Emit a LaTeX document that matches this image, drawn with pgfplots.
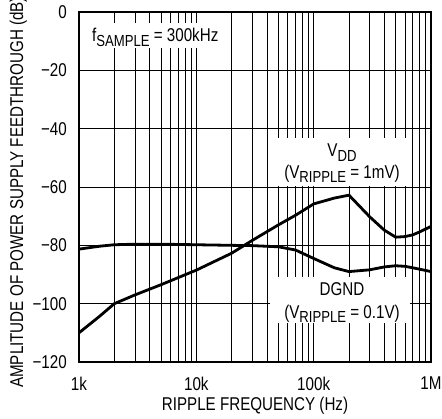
\documentclass[border=0pt]{standalone}
\usepackage{fontspec}
\setmainfont{Liberation Sans}[FakeStretch=0.82]
\usepackage{pgfplots}
\pgfplotsset{compat=1.18}
\newcommand{\fs}{\fontsize{18.5bp}{22bp}\selectfont}
\newcommand{\sub}[1]{\raisebox{-0.25em}{\fontsize{16bp}{16bp}\selectfont #1}}
\begin{document}
\begin{tikzpicture}
\begin{axis}[
  at={(0,0)}, anchor=south west,
  scale only axis, width=352bp, height=350bp,
  xmode=log, xmin=1000, xmax=1000000, ymin=-120, ymax=0,
  xtick={1000,10000,100000,1000000},
  xticklabels={1k,10k,100k,1M},
  minor xtick={2000,3000,4000,5000,6000,7000,8000,9000,20000,30000,40000,50000,60000,70000,80000,90000,200000,300000,400000,500000,600000,700000,800000,900000},
  ytick={-120,-100,-80,-60,-40,-20,0},
  yticklabels={−120,−100,−80,−60,−40,−20,0},
  xmajorgrids, xminorgrids, ymajorgrids,
  major grid style={black, line width=0.9bp},
  minor grid style={black, line width=0.9bp},
  major tick length=0pt, minor tick length=0pt,
  axis line style={line width=1.3bp},
  tick label style={font=\fs},
  yticklabel style={anchor=east, inner sep=0pt, xshift=-12bp},
  xticklabel style={anchor=north, inner sep=0pt, yshift=-15bp},
  clip=false,
]
% white label boxes
\fill[white] ([xshift=1.5bp,yshift=-11bp]rel axis cs:0,1) rectangle ([xshift=149bp,yshift=-36bp]rel axis cs:0,1);
\fill[white] ([xshift=191bp,yshift=-126bp]rel axis cs:0,1) rectangle ([xshift=331bp,yshift=-174bp]rel axis cs:0,1);
\fill[white] ([xshift=191bp,yshift=-265bp]rel axis cs:0,1) rectangle ([xshift=331bp,yshift=-311bp]rel axis cs:0,1);

\addplot[black, line width=2.8bp, line join=round] coordinates {
 (1000,-110) (1500,-104.3) (2000,-100) (3000,-97) (5000,-93.5) (10000,-88.5)
 (20000,-82.7) (30000,-78.3) (50000,-73) (70000,-69.7) (100000,-65.8)
 (150000,-63.8) (200000,-62.8) (300000,-70.2) (400000,-74.8) (500000,-77.2)
 (600000,-77.0) (700000,-76.4) (800000,-75.4) (1000000,-73.5)
};
\addplot[black, line width=2.8bp, line join=round] coordinates {
 (1000,-81.3) (1500,-80.3) (2000,-79.8) (3000,-79.6) (5000,-79.6) (10000,-79.8)
 (20000,-80) (30000,-80.1) (50000,-80.5) (70000,-81.6) (100000,-84.5)
 (150000,-87.7) (200000,-89) (300000,-88.4) (400000,-87.4) (500000,-87.0)
 (600000,-87.2) (700000,-87.7) (1000000,-89)
};

\node[anchor=base west, inner sep=0pt, font=\fs] at ([xshift=13bp,yshift=-29.7bp]rel axis cs:0,1) {f\sub{SAMPLE} = 300kHz};
\node[anchor=base, inner sep=0pt, font=\fs] at ([xshift=263bp,yshift=-144.7bp]rel axis cs:0,1) {V\sub{DD}};
\node[anchor=base, inner sep=0pt, font=\fs] at ([xshift=263bp,yshift=-166.3bp]rel axis cs:0,1) {(V\sub{RIPPLE} = 1mV)};
\node[anchor=base, inner sep=0pt, font=\fs] at ([xshift=263bp,yshift=-283bp]rel axis cs:0,1) {DGND};
\node[anchor=base, inner sep=0pt, font=\fs] at ([xshift=263bp,yshift=-306.3bp]rel axis cs:0,1) {(V\sub{RIPPLE} = 0.1V)};

\node[anchor=base, inner sep=0pt, font=\fs] at ([yshift=-48.7bp]rel axis cs:0.5,0) {RIPPLE FREQUENCY (Hz)};
\node[anchor=base west, rotate=90, inner sep=0pt, font=\fs] at ([xshift=-56bp,yshift=-26bp]rel axis cs:0,0) {AMPLITUDE OF POWER SUPPLY FEEDTHROUGH (dB)};
\end{axis}
\pgfresetboundingbox
\path[use as bounding box] (-79bp,-57bp) rectangle (363bp,362bp);
\end{tikzpicture}
\end{document}
